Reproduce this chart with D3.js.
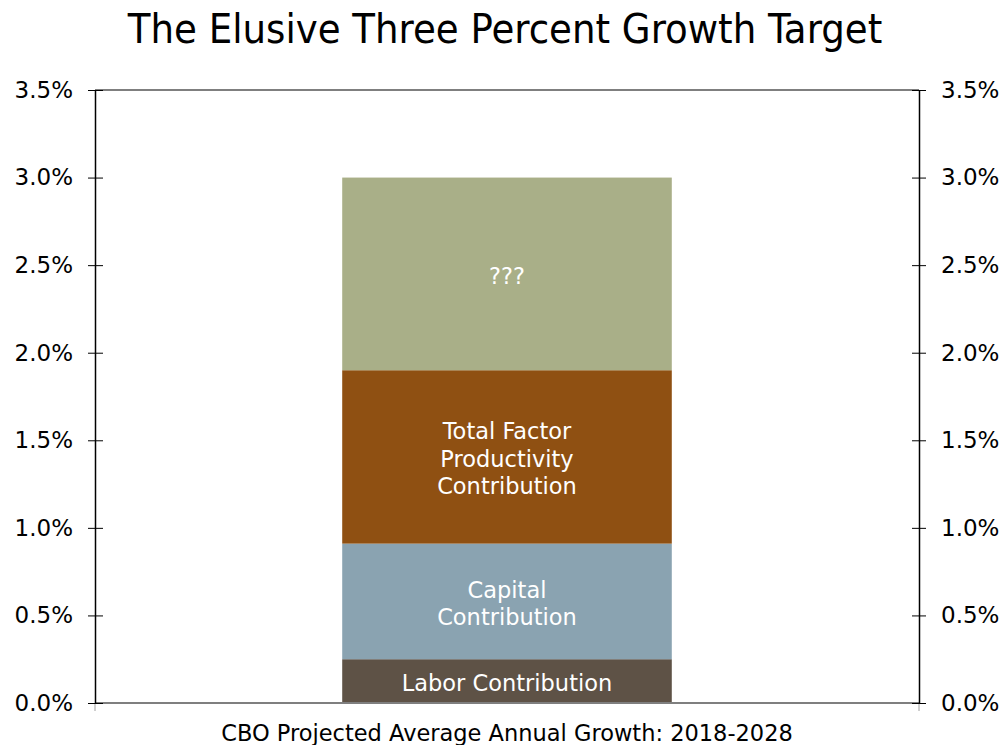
<!DOCTYPE html>
<html>
<head>
<meta charset="utf-8">
<script src="https://cdn.jsdelivr.net/npm/d3@7/dist/d3.min.js"></script>
<style>
  html, body { margin: 0; padding: 0; background: #fff; }
  svg { display: block; }
  text { font-family: "DejaVu Sans", Verdana, sans-serif; }
</style>
</head>
<body>
<svg id="chart" width="1003" height="745"></svg>
<script>
// Stacked components of projected growth (percentage points)
const category = "CBO Projected Average Annual Growth: 2018-2028";
const segmentNames = ["Labor Contribution", "Capital Contribution", "Total Factor Productivity Contribution", "???"];
const segmentLines = [["Labor Contribution"], ["Capital", "Contribution"], ["Total Factor", "Productivity", "Contribution"], ["???"]];
const segmentValues = [0.25, 0.66, 0.99, 1.10];
const segmentColors = ["#5e5246", "#8aa3b1", "#8f5012", "#a9af88"];
const tickValues = [0, 0.5, 1.0, 1.5, 2.0, 2.5, 3.0, 3.5];
const titleText = "The Elusive Three Percent Growth Target";

const svg = d3.select("#chart");
const margin = { left: 95, right: 84, top: 90, bottom: 42 };
const W = 1003, H = 745;
const x0 = margin.left, x1 = W - margin.right;
const y0 = H - margin.bottom, y1 = margin.top;
const fs = 22.5;

const x = d3.scaleBand().domain([category]).range([x0, x1]).padding(0.4286);
const y = d3.scaleLinear().domain([0, 3.5]).range([y0, y1]);

// Title
svg.append("text")
  .attr("x", (x0 + x1) / 2 - 2).attr("y", 43)
  .attr("text-anchor", "middle")
  .attr("font-size", 41.3)
  .style("font-family", "'DejaVu Sans Condensed', 'DejaVu Sans', sans-serif")
  .attr("fill", "#000")
  .text(titleText);

// Stack segments
let acc = 0;
const stacked = segmentValues.map((v, i) => {
  const d = { name: segmentNames[i], lines: segmentLines[i], y0: acc, y1: acc + v, color: segmentColors[i] };
  acc += v;
  return d;
});

const g = svg.append("g");
g.selectAll("rect.seg").data(stacked).join("rect")
  .attr("class", "seg")
  .attr("x", x(category))
  .attr("width", x.bandwidth())
  .attr("y", d => y(d.y1))
  .attr("height", d => y(d.y0) - y(d.y1))
  .attr("fill", d => d.color);

// Segment labels
const lineH = 27.5;
stacked.forEach(d => {
  const cy = (y(d.y0) + y(d.y1)) / 2;
  const n = d.lines.length;
  const t = g.append("text")
    .attr("text-anchor", "middle")
    .attr("font-size", fs)
    .attr("fill", "#fff");
  d.lines.forEach((ln, k) => {
    t.append("tspan")
      .attr("x", x(category) + x.bandwidth() / 2)
      .attr("y", cy + (k - (n - 1) / 2) * lineH + 2)
      .attr("dy", "0.35em")
      .text(ln);
  });
});

// Top border and baseline
svg.append("line").attr("x1", x0).attr("x2", x1).attr("y1", y1).attr("y2", y1)
  .attr("stroke", "#7f7f7f").attr("stroke-width", 2);
svg.append("line").attr("x1", x0).attr("x2", x1).attr("y1", y0).attr("y2", y0)
  .attr("stroke", "#7f7f7f").attr("stroke-width", 2);

// Small category ticks below baseline
[x0, x1].forEach(xx => {
  svg.append("line").attr("x1", xx).attr("x2", xx).attr("y1", y0).attr("y2", y0 + 8)
    .attr("stroke", "#a0a0a0").attr("stroke-width", 1);
});

const fmt = d => d.toFixed(1) + "%";

// Left axis
const left = svg.append("g").attr("transform", `translate(${x0},0)`)
  .call(d3.axisLeft(y).tickValues(tickValues).tickFormat(fmt).tickSizeInner(7).tickSizeOuter(0).tickPadding(15));
left.select(".domain").attr("stroke", "#000").attr("stroke-width", 1.5);
left.selectAll(".tick line").attr("x2", 8).attr("x1", -7).attr("stroke", "#000");
left.selectAll(".tick text").attr("font-size", fs + 0.5).attr("fill", "#000")
  .style("font-family", "'DejaVu Sans', Verdana, sans-serif");

// Right axis
const right = svg.append("g").attr("transform", `translate(${x1},0)`)
  .call(d3.axisRight(y).tickValues(tickValues).tickFormat(fmt).tickSizeInner(7).tickSizeOuter(0).tickPadding(15));
right.select(".domain").attr("stroke", "#000").attr("stroke-width", 1.5);
right.selectAll(".tick line").attr("x1", -7).attr("x2", 7).attr("stroke", "#000");
right.selectAll(".tick text").attr("font-size", fs + 0.5).attr("fill", "#000")
  .style("font-family", "'DejaVu Sans', Verdana, sans-serif");

// Category label
svg.append("text")
  .attr("x", x(category) + x.bandwidth() / 2).attr("y", 741)
  .attr("text-anchor", "middle")
  .attr("font-size", fs)
  .attr("fill", "#000")
  .text(category);
</script>
</body>
</html>
